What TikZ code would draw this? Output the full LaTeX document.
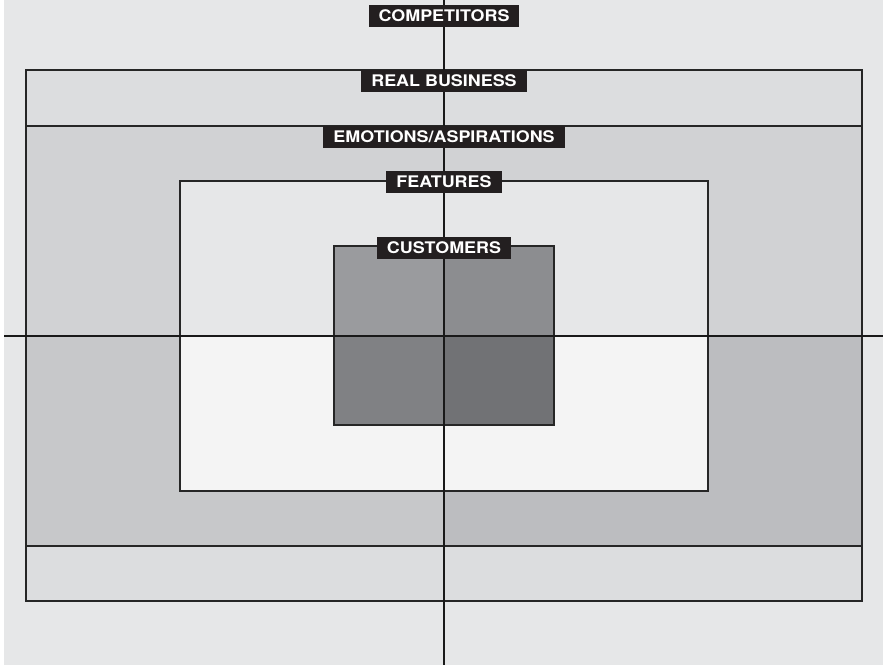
\documentclass[tikz,border=0pt]{standalone}
\usepackage{fontspec}
\newfontfamily\tagfont[FakeStretch=1.12]{TeX Gyre Heros}
\usetikzlibrary{positioning}
\definecolor{bgpage}{HTML}{E6E7E8}
\definecolor{realbiz}{HTML}{DCDDDF}
\definecolor{emotop}{HTML}{D1D2D4}
\definecolor{emobl}{HTML}{C7C8CA}
\definecolor{emobr}{HTML}{BCBDC0}
\definecolor{feattop}{HTML}{E6E7E8}
\definecolor{featbot}{HTML}{F4F4F4}
\definecolor{custtl}{HTML}{9A9B9E}
\definecolor{custtr}{HTML}{8C8D90}
\definecolor{custbl}{HTML}{808184}
\definecolor{custbr}{HTML}{717275}
\definecolor{tagblack}{HTML}{231F20}

\begin{document}
\begin{tikzpicture}[
    x=1pt, y=-1pt,
    tag/.style={fill=tagblack, text=white, font=\tagfont\bfseries\fontsize{16}{16}\selectfont,
        inner xsep=10pt, inner ysep=0pt, minimum height=21.5pt, anchor=north},
    frame/.style={draw=black!85, line width=1.1pt},
    axis/.style={draw=black!90, line width=1.2pt},
]

\useasboundingbox (0,0) rectangle (883,665);

% Background
\fill[bgpage] (4,0) rectangle (883,665);

% Real business band
\fill[realbiz] (26,70) rectangle (862,601);

% Emotions/aspirations band
\fill[emotop] (26,126) rectangle (862,336);
\fill[emobl] (26,336) rectangle (444,546);
\fill[emobr] (444,336) rectangle (862,546);

% Features
\fill[feattop] (180,181) rectangle (708,336);
\fill[featbot] (180,336) rectangle (708,491);

% Customers
\fill[custtl] (334,246) rectangle (444,336);
\fill[custtr] (444,246) rectangle (554,336);
\fill[custbl] (334,336) rectangle (444,425);
\fill[custbr] (444,336) rectangle (554,425);

% Outlines
\draw[frame] (26,70) rectangle (862,601);
\draw[frame] (26,126) -- (862,126);
\draw[frame] (26,546) -- (862,546);
\draw[frame] (180,181) rectangle (708,491);
\draw[frame] (334,246) rectangle (554,425);

% Axes
\coordinate (top) at (444,0);
\coordinate (bottom) at (444,665);
\coordinate (left) at (4,336);
\coordinate (right) at (883,336);
\draw[axis] (top) -- (bottom);
\draw[axis] (left) -- (right);

% Labels
\node[tag] (competitors) at (444,5) {COMPETITORS};
\node[tag] (realbusiness) at (444,70) {REAL BUSINESS};
\node[tag] (emotions) at (444,126) {EMOTIONS/ASPIRATIONS};
\node[tag] (features) at (444,171) {FEATURES};
\node[tag] (customers) at (444,237) {CUSTOMERS};

\end{tikzpicture}
\end{document}
